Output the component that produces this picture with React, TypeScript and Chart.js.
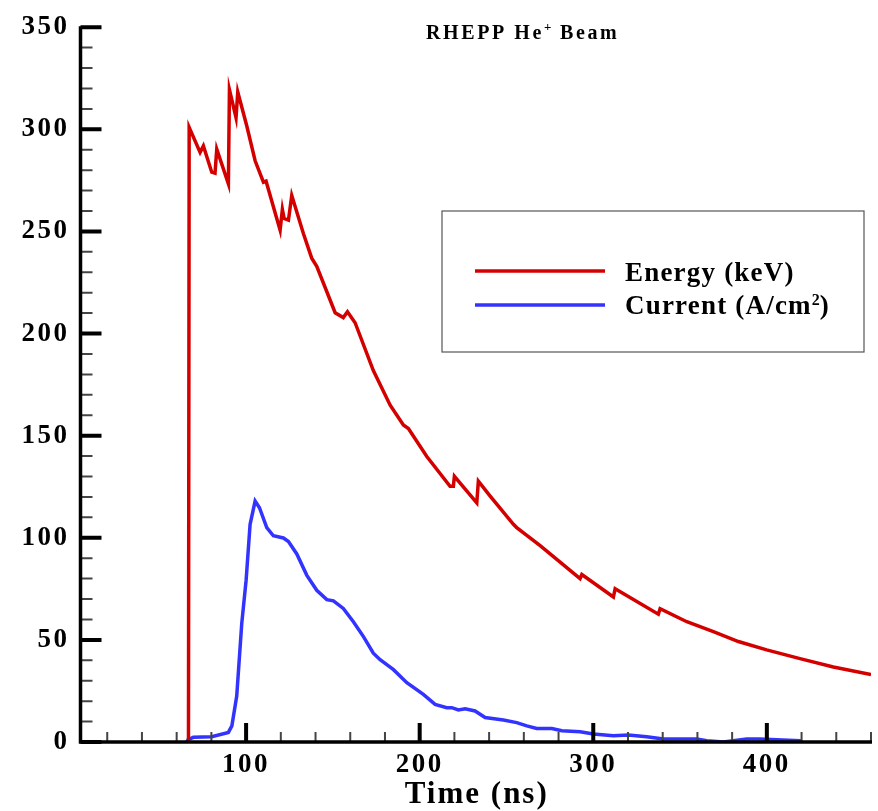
import React, { useEffect, useRef } from 'react';
import { Chart, registerables } from 'chart.js';

Chart.register(...registerables);

// ---------------- data ----------------
const energyTime = [
  66.8, 67.2, 73.5, 75.4, 80.2, 82.1, 83.1, 89.8, 90.4, 94.2, 95.2, 100.4, 105.2, 110, 111.5,
  119.6, 120.9, 121.9, 124.4, 126.3, 133, 137.8, 140.7, 151.3, 156, 158.4, 162.8, 173.3, 183,
  190.6, 193.5, 204.1, 217.5, 219.4, 220, 232.9, 233.8, 240.6, 254, 255.9, 269.4, 292.4, 293.4,
  311.6, 312.6, 337.5, 338.5, 353.9, 369.2, 383.6, 399.9, 419.1, 438.3, 460,
];
const energyValues = [
  0, 301, 288.7, 291.9, 279, 278.5, 290.3, 273.3, 319.4, 305.7, 318.3, 301.6, 284.6, 274.1, 274.6,
  250.6, 260.8, 256.3, 255.5, 267.6, 249, 236.9, 232.9, 210.2, 207.8, 210.7, 205.3, 181.9, 164.9,
  155.2, 153.5, 139.8, 125.2, 125.2, 130.1, 117.1, 127.7, 120.4, 106.6, 105, 96.1, 80, 82,
  71, 75, 62.6, 65.3, 58.9, 54, 49.2, 45.1, 40.8, 36.7, 33,
];

const currentTime = [
  65.8, 66.5, 69.6, 80.2, 89.8, 91.8, 94.6, 97.5, 100, 102.3, 105.2, 107.7, 111.9, 115.7, 121.5,
  124.4, 129.2, 135, 140.7, 146.5, 150.3, 156, 161.8, 167.6, 173.3, 177.2, 184.9, 192.6, 202.1,
  208.9, 215.6, 218.5, 222.3, 226.2, 231.9, 237.7, 248.2, 255.9, 261.7, 267.4, 276.1, 281.9,
  292.4, 300.1, 311.6, 320.2, 330.8, 340.4, 359.6, 365.4, 375, 388.4, 396, 405.7, 419.1, 420,
];
const currentValues = [
  0, 1.1, 2.3, 2.6, 4.7, 7.9, 22.5, 58.1, 79.1, 106.6, 118, 114.7, 105, 101, 99.9,
  98.2, 92.1, 81.6, 74.3, 69.7, 69.1, 65.4, 58.9, 51.6, 43.5, 40.3, 35.4, 29, 23.3,
  18.4, 16.8, 16.8, 15.7, 16.3, 15.2, 12, 10.8, 9.5, 7.9, 6.6, 6.6, 5.5,
  5, 3.9, 3.1, 3.4, 2.6, 1.5, 1.5, 0.6, 0, 1.5, 1.5, 1.1, 0.6, 0,
];

const xMajorTicks = [100, 200, 300, 400];
const xMinorTicks = [20, 40, 60, 80, 120, 140, 160, 180, 220, 240, 260, 280, 320, 340, 360, 380, 420, 440, 460];
const yMajorTicks = [0, 50, 100, 150, 200, 250, 300, 350];
const yMinorTicks = [
  10, 20, 30, 40, 60, 70, 80, 90, 110, 120, 130, 140, 160, 170, 180, 190, 210, 220, 230, 240,
  260, 270, 280, 290, 310, 320, 330, 340,
];

const titleParts = ['RHEPP He', '+', ' Beam'];
const xAxisTitle = 'Time (ns)';
const energyLabel = ['Energy (keV)', ''];
const currentLabel = ['Current (A/cm', '2', ')'];

const RED = '#d40000';
const BLUE = '#3333ff';
const SERIF = '"Liberation Serif", "Times New Roman", Times, serif';

type Part = { text: string; size: number; dy: number; spacing: number };

function drawParts(ctx: CanvasRenderingContext2D, parts: Part[], x: number, y: number) {
  let cx = x;
  for (const p of parts) {
    if (!p.text) continue;
    ctx.font = `bold ${p.size}px ${SERIF}`;
    (ctx as any).letterSpacing = `${p.spacing}px`;
    ctx.fillText(p.text, cx, y + p.dy);
    cx += ctx.measureText(p.text).width;
  }
}

const decorPlugin = {
  id: 'decor',
  beforeDraw(chart: any) {
    (chart.ctx as any).letterSpacing = '2.5px';
  },
  afterDraw(chart: any) {
    const ctx: CanvasRenderingContext2D = chart.ctx;
    const xs = chart.scales.x;
    const ys = chart.scales.y;
    const { left, right, top, bottom } = chart.chartArea;
    ctx.save();

    // minor ticks
    ctx.strokeStyle = '#444';
    ctx.lineWidth = 2;
    ctx.beginPath();
    for (const v of yMinorTicks) {
      const p = ys.getPixelForValue(v);
      ctx.moveTo(left, p);
      ctx.lineTo(left + 12, p);
    }
    for (const v of xMinorTicks) {
      const p = xs.getPixelForValue(v);
      ctx.moveTo(p, bottom);
      ctx.lineTo(p, bottom - 10);
    }
    ctx.stroke();

    // major ticks
    ctx.strokeStyle = '#000';
    ctx.lineWidth = 4;
    ctx.beginPath();
    for (const v of yMajorTicks) {
      const p = ys.getPixelForValue(v);
      ctx.moveTo(left, p);
      ctx.lineTo(left + 21, p);
    }
    for (const v of xMajorTicks) {
      const p = xs.getPixelForValue(v);
      ctx.moveTo(p, bottom);
      ctx.lineTo(p, bottom - 19);
    }
    ctx.stroke();

    // axis lines
    ctx.lineWidth = 3.5;
    ctx.lineJoin = 'miter';
    ctx.beginPath();
    ctx.moveTo(left, top - 1);
    ctx.lineTo(left, bottom);
    ctx.lineTo(right + 1, bottom);
    ctx.stroke();

    ctx.fillStyle = '#000';
    ctx.textBaseline = 'alphabetic';
    ctx.textAlign = 'left';

    // title
    drawParts(
      ctx,
      [
        { text: titleParts[0], size: 20, dy: 0, spacing: 2.6 },
        { text: titleParts[1], size: 13, dy: -8, spacing: 1 },
        { text: titleParts[2], size: 20, dy: 0, spacing: 2.6 },
      ],
      426,
      39,
    );

    // x axis title
    ctx.font = `bold 31px ${SERIF}`;
    (ctx as any).letterSpacing = '2px';
    const tw = ctx.measureText(xAxisTitle).width;
    ctx.fillText(xAxisTitle, (left + right) / 2 - tw / 2 + 1, 803);

    // legend box
    ctx.strokeStyle = '#555';
    ctx.lineWidth = 1.2;
    ctx.strokeRect(442, 211, 422, 141);

    ctx.lineWidth = 3.5;
    ctx.strokeStyle = RED;
    ctx.beginPath();
    ctx.moveTo(475, 271);
    ctx.lineTo(605, 271);
    ctx.stroke();
    ctx.strokeStyle = BLUE;
    ctx.beginPath();
    ctx.moveTo(475, 305);
    ctx.lineTo(605, 305);
    ctx.stroke();

    drawParts(ctx, [{ text: energyLabel[0], size: 27, dy: 0, spacing: 1.2 }], 625, 281);
    drawParts(
      ctx,
      [
        { text: currentLabel[0], size: 27, dy: 0, spacing: 1.2 },
        { text: currentLabel[1], size: 16, dy: -9, spacing: 0 },
        { text: currentLabel[2], size: 27, dy: 0, spacing: 1.2 },
      ],
      625,
      314,
    );

    ctx.restore();
    (ctx as any).letterSpacing = '0px';
  },
};

export default function App() {
  const ref = useRef<HTMLCanvasElement | null>(null);

  useEffect(() => {
    if (!ref.current) return;
    const tickFont = { family: SERIF, size: 27, weight: 'bold' as const };
    const chart = new Chart(ref.current, {
      type: 'line',
      data: {
        datasets: [
          {
            label: 'Energy (keV)',
            data: energyTime.map((t, i) => ({ x: t, y: energyValues[i] })),
            borderColor: RED,
            borderWidth: 3.5,
            pointRadius: 0,
            tension: 0,
            fill: false,
          },
          {
            label: 'Current (A/cm²)',
            data: currentTime.map((t, i) => ({ x: t, y: currentValues[i] })),
            borderColor: BLUE,
            borderWidth: 3.5,
            pointRadius: 0,
            tension: 0,
            fill: false,
          },
        ],
      },
      options: {
        responsive: false,
        animation: false,
        layout: { padding: { top: 22, right: 7, left: 0, bottom: 0 } },
        plugins: {
          legend: { display: false },
          tooltip: { enabled: false },
          title: { display: false },
        },
        scales: {
          x: {
            type: 'linear',
            min: 4.6,
            max: 460,
            grid: { display: false, drawTicks: false },
            border: { display: false },
            afterBuildTicks: (s: any) => {
              s.ticks = xMajorTicks.map((v) => ({ value: v }));
            },
            afterFit: (s: any) => {
              s.height = 69;
            },
            ticks: {
              font: tickFont,
              color: '#000',
              padding: 7,
              maxRotation: 0,
              autoSkip: false,
            },
          },
          y: {
            type: 'linear',
            min: 0,
            max: 350,
            grid: { display: false, drawTicks: false },
            border: { display: false },
            afterBuildTicks: (s: any) => {
              s.ticks = yMajorTicks.map((v) => ({ value: v }));
            },
            afterFit: (s: any) => {
              s.width = 80.5;
            },
            ticks: {
              font: tickFont,
              color: '#000',
              padding: 11,
              autoSkip: false,
            },
          },
        },
      },
      plugins: [decorPlugin],
    });
    return () => chart.destroy();
  }, []);

  return (
    <div style={{ position: 'fixed', left: 0, top: 0, width: 878, height: 811, background: '#fff' }}>
      <canvas ref={ref} width={878} height={811} style={{ display: 'block', width: 878, height: 811 }} />
    </div>
  );
}
